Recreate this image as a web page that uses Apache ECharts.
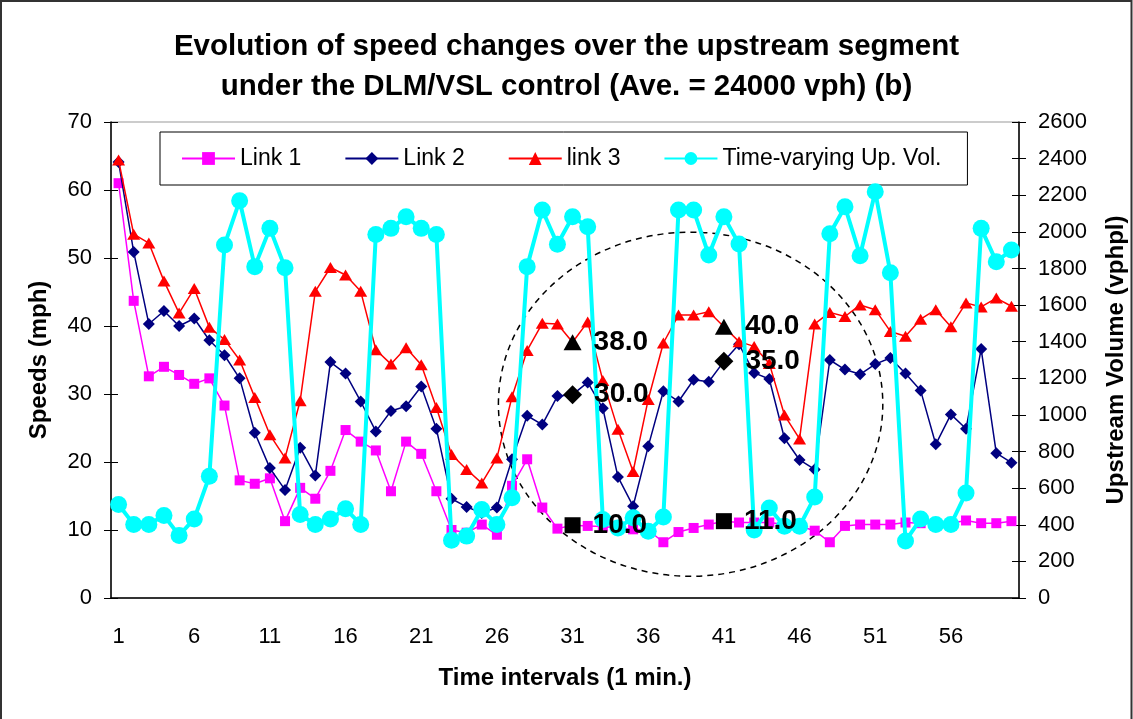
<!DOCTYPE html>
<html>
<head>
    <meta charset="utf-8">
    <title>Speed changes DLM/VSL</title>
    <script src="https://cdn.jsdelivr.net/npm/echarts@6/dist/echarts.min.js"></script>
    <style>
        html, body { margin: 0; padding: 0; background: #fff; }
        #chart { width: 1133px; height: 719px; }
    </style>
</head>
<body>
    <div id="chart"></div>
    <script>
        var FONT = '"Liberation Sans", Arial, sans-serif';

        var timeIntervals = ['1','2','3','4','5','6','7','8','9','10','11','12','13','14','15','16','17','18','19','20',
            '21','22','23','24','25','26','27','28','29','30','31','32','33','34','35','36','37','38','39','40',
            '41','42','43','44','45','46','47','48','49','50','51','52','53','54','55','56','57','58','59','60'];

        var link1 = [61.0, 43.7, 32.6, 34.0, 32.8, 31.5, 32.3, 28.3, 17.3, 16.8,
            17.6, 11.3, 16.2, 14.6, 18.7, 24.7, 23.0, 21.7, 15.7, 23.0,
            21.2, 15.7, 10.0, 9.6, 10.8, 9.3, 16.5, 20.4, 13.3, 10.2,
            10.7, 10.6, 10.5, 10.3, 10.1, 10.0, 8.2, 9.7, 10.3, 10.8,
            11.3, 11.1, 11.1, 11.1, 10.8, 10.6, 9.9, 8.2, 10.6, 10.8,
            10.8, 10.8, 11.1, 11.0, 11.0, 11.0, 11.4, 11.0, 11.0, 11.3];

        var link2 = [64.1, 50.9, 40.3, 42.2, 40.0, 41.1, 37.9, 35.7, 32.3, 24.3,
            19.1, 15.9, 22.1, 18.0, 34.7, 33.0, 28.9, 24.5, 27.5, 28.2,
            31.1, 24.9, 14.6, 13.4, 12.5, 13.3, 20.4, 26.8, 25.5, 29.7,
            29.9, 31.7, 27.9, 17.8, 13.5, 22.3, 30.4, 28.9, 32.1, 31.8,
            34.8, 37.3, 33.1, 32.2, 23.5, 20.3, 18.9, 35.0, 33.6, 32.9,
            34.4, 35.3, 33.0, 30.5, 22.6, 27.0, 24.9, 36.6, 21.3, 19.9];

        var link3 = [64.4, 53.5, 52.2, 46.6, 41.9, 45.5, 39.8, 38.0, 35.0, 29.5,
            24.0, 20.6, 29.0, 45.1, 48.6, 47.5, 45.1, 36.5, 34.4, 36.8,
            34.3, 28.0, 21.1, 18.9, 16.9, 20.6, 29.6, 36.4, 40.4, 40.3,
            37.6, 40.6, 32.0, 24.8, 18.6, 29.2, 37.5, 41.6, 41.6, 42.1,
            39.9, 37.7, 37.0, 34.5, 26.9, 23.4, 40.3, 42.0, 41.4, 43.1,
            42.4, 39.2, 38.5, 41.0, 42.4, 39.9, 43.4, 42.8, 44.1, 42.9];

        var upVolume = [511, 402, 402, 451, 342, 432, 665, 1928, 2170, 1810,
            2019, 1804, 456, 402, 432, 487, 402, 1986, 2019, 2082,
            2019, 1986, 316, 338, 483, 402, 547, 1810, 2119, 1932,
            2082, 2028, 429, 383, 438, 365, 443, 2119, 2119, 1873,
            2082, 1933, 371, 492, 392, 392, 552, 1990, 2137, 1870,
            2219, 1777, 311, 432, 402, 402, 574, 2019, 1837, 1901];

        // highlighted points inside the dashed circle
        var markInterval = ['31', '31', '31', '41', '41', '41'];
        var markSpeed = [10.7, 29.9, 37.6, 11.3, 34.8, 39.9];
        var markLabel = ['10.0', '30.0', '38.0', '11.0', '35.0', '40.0'];
        var markSymbol = ['rect', 'diamond', 'triangle', 'rect', 'diamond', 'triangle'];

        var chart = echarts.init(document.getElementById('chart'));

        var markData = markSpeed.map(function (v, i) {
            return {
                value: [markInterval[i], v],
                symbol: markSymbol[i],
                symbolSize: markSymbol[i] === 'rect' ? [16, 16] : (markSymbol[i] === 'diamond' ? [19, 19] : [18, 16]),
                label: { formatter: markLabel[i] }
            };
        });

        var axisText = { color: '#000', fontSize: 22, fontFamily: FONT };
        var nameText = { color: '#000', fontSize: 24, fontWeight: 'bold', fontFamily: FONT };

        chart.setOption({
            animation: false,
            backgroundColor: '#fff',
            title: {
                text: 'Evolution of speed changes over the upstream segment\nunder the DLM/VSL control (Ave. = 24000 vph) (b)',
                left: 'center',
                top: 22,
                textStyle: { color: '#000', fontSize: 29.5, fontWeight: 'bold', fontFamily: FONT, lineHeight: 40 }
            },
            legend: {
                data: ['Link 1', 'Link 2', 'link 3', 'Time-varying Up. Vol.'],
                left: 160,
                top: 132,
                padding: [15, 26, 15, 21],
                itemGap: 43,
                itemWidth: 53,
                itemHeight: 16,
                borderColor: '#000',
                borderWidth: 1,
                backgroundColor: '#fff',
                textStyle: { color: '#000', fontSize: 23, fontFamily: FONT }
            },
            grid: {
                left: 111, right: 114, top: 122, bottom: 121,
                outerBoundsMode: 'none',
                containLabel: false,
                show: true, borderColor: '#999', borderWidth: 1, backgroundColor: 'transparent'
            },
            xAxis: [{
                type: 'category',
                data: timeIntervals,
                boundaryGap: true,
                name: 'Time intervals (1 min.)',
                nameLocation: 'middle',
                nameGap: 68,
                nameTextStyle: nameText,
                axisLine: { lineStyle: { color: '#000', width: 1.5 } },
                axisTick: { interval: 0, length: 7, lineStyle: { color: '#000' } },
                axisLabel: Object.assign({ interval: 4, margin: 28 }, axisText),
                splitLine: { show: false }
            }, {
                type: 'category',
                data: timeIntervals,
                position: 'bottom',
                axisLine: { show: false },
                axisTick: { inside: true, interval: 0, length: 7, lineStyle: { color: '#000' } },
                axisLabel: { show: false },
                splitLine: { show: false }
            }],
            yAxis: [{
                type: 'value',
                position: 'left',
                min: 0, max: 70, interval: 10,
                name: 'Speeds (mph)',
                nameLocation: 'middle',
                nameRotate: 90,
                nameGap: 60,
                nameTextStyle: nameText,
                axisLine: { show: true, lineStyle: { color: '#000', width: 1.5 } },
                axisTick: { show: true, length: 7, lineStyle: { color: '#000' } },
                axisLabel: Object.assign({ margin: 19 }, axisText),
                splitLine: { show: false }
            }, {
                type: 'value',
                position: 'right',
                min: 0, max: 2600, interval: 200,
                name: 'Upstream Volume (vphpl)',
                nameLocation: 'middle',
                nameRotate: 90,
                nameGap: 85,
                nameTextStyle: nameText,
                axisLine: { show: true, lineStyle: { color: '#000', width: 1.5 } },
                axisTick: { show: true, length: 7, lineStyle: { color: '#000' } },
                axisLabel: Object.assign({ margin: 19, formatter: function (v) { return String(v); } }, axisText),
                splitLine: { show: false }
            }, {
                type: 'value',
                position: 'left',
                min: 0, max: 70, interval: 10,
                axisLine: { show: false },
                axisTick: { show: true, inside: true, length: 7, lineStyle: { color: '#000' } },
                axisLabel: { show: false },
                splitLine: { show: false }
            }, {
                type: 'value',
                position: 'right',
                min: 0, max: 2600, interval: 200,
                axisLine: { show: false },
                axisTick: { show: true, inside: true, length: 7, lineStyle: { color: '#000' } },
                axisLabel: { show: false },
                splitLine: { show: false }
            }],
            series: [{
                name: 'Link 1',
                type: 'line',
                data: link1,
                symbol: 'rect',
                symbolSize: 10,
                showAllSymbol: true,
                itemStyle: { color: '#ff00ff' },
                lineStyle: { color: '#ff00ff', width: 1.5 },
                z: 2
            }, {
                name: 'Link 2',
                type: 'line',
                data: link2,
                symbol: 'diamond',
                symbolSize: [12, 12],
                showAllSymbol: true,
                itemStyle: { color: '#000080' },
                lineStyle: { color: '#000080', width: 1.5 },
                z: 3
            }, {
                name: 'link 3',
                type: 'line',
                data: link3,
                symbol: 'triangle',
                symbolSize: [13, 11],
                showAllSymbol: true,
                itemStyle: { color: '#ff0000' },
                lineStyle: { color: '#ff0000', width: 1.5 },
                z: 4
            }, {
                name: 'Time-varying Up. Vol.',
                type: 'line',
                yAxisIndex: 1,
                data: upVolume,
                symbol: 'circle',
                symbolSize: 17,
                showAllSymbol: true,
                itemStyle: { color: '#00ffff' },
                lineStyle: { color: '#00ffff', width: 4 },
                z: 5
            }, {
                name: 'highlight',
                type: 'scatter',
                data: markData,
                itemStyle: { color: '#000', opacity: 1 },
                label: {
                    show: true,
                    position: 'right',
                    distance: 12,
                    color: '#000',
                    fontSize: 28,
                    fontWeight: 'bold',
                    fontFamily: FONT
                },
                z: 10
            }]
        });

        // dashed ellipse annotation, placed in axis coordinates
        var p0 = chart.convertToPixel({ xAxisIndex: 0, yAxisIndex: 0 }, [0, 0]);
        var p1 = chart.convertToPixel({ xAxisIndex: 0, yAxisIndex: 0 }, [59, 70]);
        var step = (p1[0] - p0[0]) / 59;
        var perMph = (p0[1] - p1[1]) / 70;
        chart.setOption({
            graphic: [{
                type: 'ellipse',
                shape: {
                    cx: p0[0] + 37.8 * step,
                    cy: p0[1] - 28.5 * perMph,
                    rx: 12.7 * step,
                    ry: 25.3 * perMph
                },
                style: { fill: null, stroke: '#000', lineWidth: 1.5, lineDash: [6, 5] },
                silent: true,
                z: 1
            }, {
                type: 'polyline',
                shape: { points: [[1, 719], [1, 1], [1131.5, 1], [1131.5, 719]] },
                style: { fill: null, stroke: '#333', lineWidth: 2 },
                silent: true
            }]
        });
    </script>
</body>
</html>
